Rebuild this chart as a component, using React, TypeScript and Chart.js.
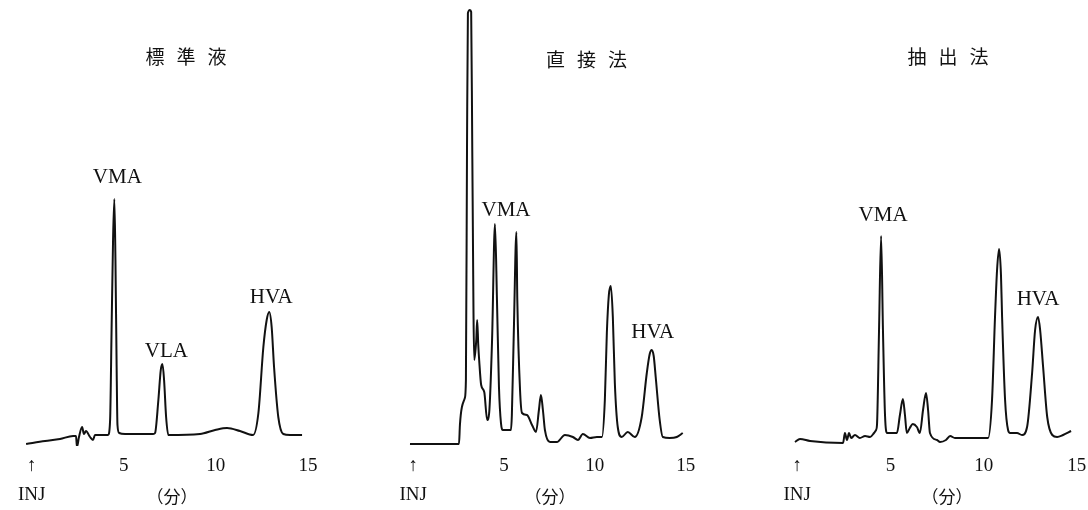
import React, { useEffect, useRef } from "react";
import { Chart, registerables } from "chart.js";

Chart.register(...registerables);

// ---------- data ----------
const TICK_VALUES = [0, 5, 10, 15];
const TICK_LABELS: (string | string[])[] = [["↑", "INJ"], "5", "10", "15"];
const AXIS_UNIT = "（分）";

const PANEL_TITLES = ["標準液", "直接法", "抽出法"];

// 標準液 (standard solution): retention time (min) / detector signal (a.u.)
const STANDARD_TIME = [-0.30, 0.73, 1.54, 2.25, 2.41, 2.46, 2.57, 2.74, 2.84, 2.95, 3.17, 3.33, 3.44, 4.09, 4.15, 4.26, 4.34, 4.42, 4.49, 4.55, 4.61, 4.66, 4.75, 5.07, 6.60, 6.70, 6.88, 7.01, 7.10, 7.19, 7.30, 7.42, 9.14, 9.96, 10.61, 11.31, 12.02, 12.31, 12.58, 12.76, 12.90, 13.03, 13.16, 13.39, 13.66, 14.03, 14.68];
const STANDARD_SIGNAL = [-4, -1, 1, 4, 4, -7, 3, 13, 6, 9, 3, 0, 5, 5, 5, 20, 110, 200, 241, 180, 80, 15, 7, 6, 6, 7, 40, 70, 76, 60, 23, 5, 6, 10, 12, 9, 5, 27, 93, 120, 128, 113, 73, 23, 6, 5, 5];
const STANDARD_PEAK_NAMES = ["VMA", "VLA", "HVA"];
const STANDARD_PEAK_TIMES = [4.49, 7.10, 12.90];

// 直接法 (direct method)
const DIRECT_TIME = [-0.18, 2.52, 2.57, 2.68, 2.84, 2.90, 2.96, 3.01, 3.12, 3.19, 3.25, 3.36, 3.47, 3.52, 3.58, 3.63, 3.74, 3.91, 4.07, 4.18, 4.34, 4.50, 4.61, 4.72, 4.83, 4.94, 5.38, 5.43, 5.54, 5.68, 5.73, 5.88, 5.99, 6.26, 6.54, 6.76, 6.92, 7.03, 7.14, 7.25, 7.53, 7.91, 8.35, 8.79, 9.07, 9.34, 9.73, 10.11, 10.39, 10.55, 10.66, 10.77, 10.88, 10.99, 11.10, 11.26, 11.48, 11.81, 12.20, 12.58, 12.86, 13.02, 13.13, 13.24, 13.35, 13.57, 13.74, 14.12, 14.51, 14.84];
const DIRECT_SIGNAL = [-4, -4, 15, 33, 42, 60, 290, 427, 430, 428, 290, 80, 100, 120, 95, 80, 55, 48, 20, 27, 100, 216, 140, 53, 17, 10, 10, 25, 110, 208, 140, 50, 27, 25, 15, 8, 30, 45, 30, 10, -2, -2, 5, 3, 0, 6, 2, 3, 3, 40, 107, 145, 154, 123, 57, 13, 3, 8, 3, 23, 67, 86, 90, 84, 63, 20, 3, 2, 3, 7];
const DIRECT_PEAK_NAMES = ["VMA", "HVA"];
const DIRECT_PEAK_TIMES = [4.50, 13.13];

// 抽出法 (extraction method)
const EXTRACT_TIME = [-0.12, 0.15, 0.69, 2.46, 2.56, 2.67, 2.78, 2.89, 3.10, 3.36, 3.64, 3.91, 4.12, 4.23, 4.28, 4.39, 4.50, 4.60, 4.71, 4.82, 5.35, 5.51, 5.67, 5.78, 5.88, 6.04, 6.20, 6.42, 6.58, 6.75, 6.91, 7.02, 7.12, 7.50, 7.66, 7.98, 8.20, 8.46, 8.73, 10.24, 10.45, 10.61, 10.72, 10.83, 10.93, 10.99, 11.15, 11.31, 11.42, 11.79, 12.06, 12.33, 12.60, 12.76, 12.92, 13.03, 13.19, 13.41, 13.68, 13.94, 14.26, 14.69];
const EXTRACT_SIGNAL = [-2, 1, -1, -3, 7, 0, 7, 2, 5, 2, 4, 3, 7, 10, 15, 110, 204, 110, 25, 7, 7, 25, 41, 25, 7, 12, 16, 13, 7, 30, 47, 30, 7, 0, -2, 0, 4, 2, 2, 2, 40, 123, 170, 191, 165, 123, 40, 10, 7, 7, 5, 13, 67, 110, 123, 110, 73, 23, 5, 3, 5, 9];
const EXTRACT_PEAK_NAMES = ["VMA", "HVA"];
const EXTRACT_PEAK_TIMES = [4.50, 12.92];

// ---------- styling / layout ----------
const INK = "#111";
const SERIF = "'Liberation Serif', 'DejaVu Serif', serif";
const CJK = "'Noto Sans CJK JP', 'Noto Sans CJK SC', sans-serif";
const Y_MIN = -6;
const Y_MAX = 440;
const CANVAS_H = 510;
const AXIS_H = 64;

type Panel = {
  title: string;
  time: number[];
  signal: number[];
  peakNames: string[];
  peakTimes: number[];
  left: number;
  width: number;
  xMin: number;
  xMax: number;
  titleAt: number;
  titleY: number;
  labelOffsets: number[][];
};

const PANELS: Panel[] = [
  {
    title: PANEL_TITLES[0], time: STANDARD_TIME, signal: STANDARD_SIGNAL,
    peakNames: STANDARD_PEAK_NAMES, peakTimes: STANDARD_PEAK_TIMES,
    left: 4, width: 336, xMin: -1.5, xMax: 16.74, titleAt: 8.38, titleY: 57,
    labelOffsets: [[3, -22], [4, -13], [2, -15]],
  },
  {
    title: PANEL_TITLES[1], time: DIRECT_TIME, signal: DIRECT_SIGNAL,
    peakNames: DIRECT_PEAK_NAMES, peakTimes: DIRECT_PEAK_TIMES,
    left: 386, width: 328, xMin: -1.5, xMax: 16.56, titleAt: 9.54, titleY: 60,
    labelOffsets: [[11, -14], [1, -18]],
  },
  {
    title: PANEL_TITLES[2], time: EXTRACT_TIME, signal: EXTRACT_SIGNAL,
    peakNames: EXTRACT_PEAK_NAMES, peakTimes: EXTRACT_PEAK_TIMES,
    left: 775, width: 344, xMin: -1.19, xMax: 17.26, titleAt: 8.09, titleY: 57,
    labelOffsets: [[2, -21], [0, -18]],
  },
];

function makeAnnotations(panel: Panel) {
  return {
    id: "chromAnnotations",
    afterDatasetsDraw(chart: any) {
      const { ctx } = chart;
      const xs = chart.scales.x;
      const ys = chart.scales.y;
      ctx.save();
      ctx.fillStyle = INK;
      ctx.textAlign = "center";
      ctx.textBaseline = "middle";
      // panel title, spaced characters
      ctx.font = `19px ${CJK}`;
      const chars = Array.from(panel.title);
      const cx = xs.getPixelForValue(panel.titleAt);
      const pitch = 31;
      chars.forEach((c, i) => {
        ctx.fillText(c, cx + (i - (chars.length - 1) / 2) * pitch, panel.titleY);
      });
      // peak labels anchored on each peak apex
      ctx.font = `21px ${SERIF}`;
      panel.peakNames.forEach((name, k) => {
        const tp = panel.peakTimes[k];
        let best = -Infinity;
        let bestT = tp;
        panel.time.forEach((t, i) => {
          if (Math.abs(t - tp) <= 0.3 && panel.signal[i] > best) {
            best = panel.signal[i];
            bestT = t;
          }
        });
        const [dx, dy] = panel.labelOffsets[k];
        ctx.fillText(name, xs.getPixelForValue(bestT) + dx, ys.getPixelForValue(best) + dy);
      });
      ctx.restore();
    },
  };
}

function PanelChart({ panel }: { panel: Panel }) {
  const ref = useRef<HTMLCanvasElement | null>(null);
  useEffect(() => {
    if (!ref.current) return;
    const chart = new Chart(ref.current, {
      type: "line",
      data: {
        datasets: [
          {
            data: panel.time.map((t, i) => ({ x: t, y: panel.signal[i] })),
            borderColor: INK,
            borderWidth: 2,
            borderJoinStyle: "round",
            cubicInterpolationMode: "monotone",
            pointRadius: 0,
            fill: false,
          },
        ],
      },
      options: {
        animation: false,
        responsive: false,
        devicePixelRatio: 1,
        events: [],
        layout: { padding: 0 },
        plugins: {
          legend: { display: false },
          tooltip: { enabled: false },
          title: { display: false },
        },
        scales: {
          x: {
            type: "linear",
            min: panel.xMin,
            max: panel.xMax,
            border: { display: false },
            grid: { display: false, drawTicks: false },
            afterBuildTicks: (axis: any) => {
              axis.ticks = TICK_VALUES.map((value) => ({ value }));
            },
            afterFit: (axis: any) => {
              axis.height = AXIS_H;
            },
            ticks: {
              autoSkip: false,
              maxRotation: 0,
              minRotation: 0,
              padding: 5,
              color: INK,
              font: { family: SERIF, size: 19, lineHeight: 1.55 },
              callback: (_v: any, index: number) => TICK_LABELS[index],
            },
            title: {
              display: true,
              text: AXIS_UNIT,
              color: INK,
              font: { family: CJK, size: 17, lineHeight: 1.2 },
              padding: { top: -23.4, bottom: 3 },
            },
          },
          y: { type: "linear", display: false, min: Y_MIN, max: Y_MAX },
        },
      },
      plugins: [makeAnnotations(panel)],
    } as any);
    return () => chart.destroy();
  }, [panel]);
  return (
    <canvas
      ref={ref}
      width={panel.width}
      height={CANVAS_H}
      style={{ position: "absolute", left: panel.left, top: 0, display: "block" }}
    />
  );
}

export default function App() {
  return (
    <div
      style={{
        position: "absolute",
        left: 0,
        top: 0,
        width: 1088,
        height: 510,
        overflow: "hidden",
        background: "#fff",
      }}
    >
      {PANELS.map((p) => (
        <PanelChart key={p.title} panel={p} />
      ))}
    </div>
  );
}
